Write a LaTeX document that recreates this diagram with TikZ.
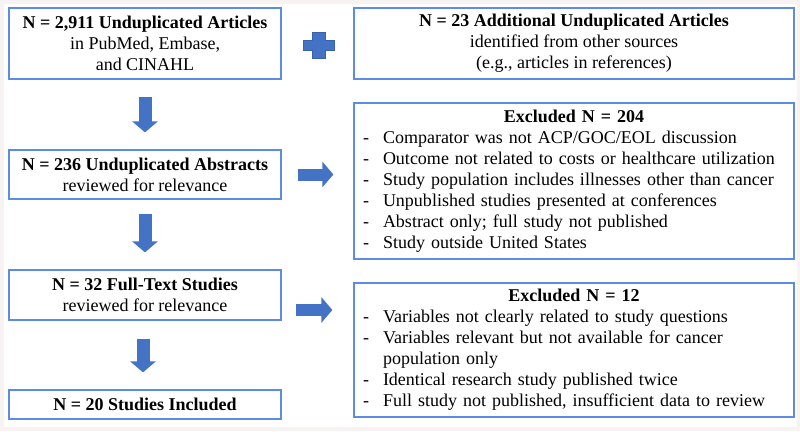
\documentclass[tikz,border=0pt]{standalone}
\usepackage{fontspec}
\setmainfont{Liberation Serif}
\usetikzlibrary{arrows.meta,calc}

\definecolor{boxline}{HTML}{5C8CE6}
\definecolor{arrowfill}{HTML}{4472C4}
\definecolor{arrowline}{HTML}{3A62AC}
\definecolor{bgout}{HTML}{F7F3F2}

\newcommand{\exitem}[1]{\par\hangindent=20pt\hangafter=1\noindent\makebox[20pt][l]{-}#1}

\tikzset{
	stagebox/.style={draw=boxline, line width=1.2pt, fill=white, align=center,
		minimum width=272pt, inner sep=3pt, font=\fontsize{18}{21}\selectfont},
	sidebox/.style={stagebox, minimum width=440pt},
	exbox/.style={draw=boxline, line width=1.2pt, fill=white, text width=422pt,
		inner xsep=9pt, inner ysep=2pt, font=\fontsize{18}{21}\selectfont},
	flowarrow/.style={draw=arrowfill, line width=13pt,
		-{Triangle[length=11pt, width=25pt]}},
	plusmark/.style={fill=arrowfill, draw=arrowline, line width=0.6pt}
}

\begin{document}
\begin{tikzpicture}[x=1pt, y=-1pt]

	% Background
	\useasboundingbox (0,0) rectangle (800,431);
	\fill[bgout] (0,0) rectangle (800,431);
	\fill[white] (4,4) rectangle (797,427);

	% Stages on the left
	\node[stagebox, minimum height=71pt] (art) at (145,43.5)
		{\textbf{N = 2,911 Unduplicated Articles}\\ in PubMed, Embase,\\ and CINAHL};
	\node[stagebox, minimum height=49pt] (abs) at (145,174.5)
		{\textbf{N = 236 Unduplicated Abstracts}\\ reviewed for relevance};
	\node[stagebox, minimum height=50pt] (full) at (145,295)
		{\textbf{N = 32 Full-Text Studies}\\ reviewed for relevance};
	\node[stagebox, minimum height=29pt] (incl) at (145,404.5)
		{\textbf{N = 20 Studies Included}};

	% Boxes on the right
	\node[sidebox, minimum height=71pt] (more) at (574,43.5)
		{\textbf{N = 23 Additional Unduplicated Articles}\\ identified from other sources\\ (e.g., articles in references)};
	\node[exbox, minimum height=156pt] (ex1) at (574,181)
		{{\centering\textbf{Excluded N = 204}\par}\raggedright
		\exitem{Comparator was not ACP/GOC/EOL discussion}
		\exitem{Outcome not related to costs or healthcare utilization}
		\exitem{Study population includes illnesses other than cancer}
		\exitem{Unpublished studies presented at conferences}
		\exitem{Abstract only; full study not published}
		\exitem{Study outside United States}\par};
	\node[exbox, minimum height=134pt] (ex2) at (574,350)
		{{\centering\textbf{Excluded N = 12}\par}\raggedright
		\exitem{Variables not clearly related to study questions}
		\exitem{Variables relevant but not available for cancer\newline population only}
		\exitem{Identical research study published twice}
		\exitem{Full study not published, insufficient data to review}\par};

	% Plus sign
	\coordinate (plus) at ($(art.east)!0.5!(more.west)$);
	\filldraw[plusmark] ([shift={(1,1.5)}]plus) ++(-6.5,-13) -- ++(13,0) -- ++(0,8)
		-- ++(9,0) -- ++(0,10) -- ++(-9,0) -- ++(0,8) -- ++(-13,0) -- ++(0,-8)
		-- ++(-9,0) -- ++(0,-10) -- ++(9,0) -- cycle;

	% Block arrows
	\draw[flowarrow, shorten <=17pt, shorten >=17pt] (art.south) -- (abs.north);
	\draw[flowarrow, shorten <=14pt, shorten >=17pt] (abs.south) -- (full.north);
	\draw[flowarrow, shorten <=18pt, shorten >=17pt] ([xshift=-2pt]full.south) -- ([xshift=-2pt]incl.north);
	\draw[flowarrow, line width=12pt, shorten <=16pt, shorten >=20pt] (abs.east) -- (abs.east -| ex1.west);
	\draw[flowarrow, line width=12pt, shorten <=14pt, shorten >=21pt] ([yshift=-15pt]full.east) -- ([yshift=-15pt]full.east -| ex2.west);
\end{tikzpicture}
\end{document}
